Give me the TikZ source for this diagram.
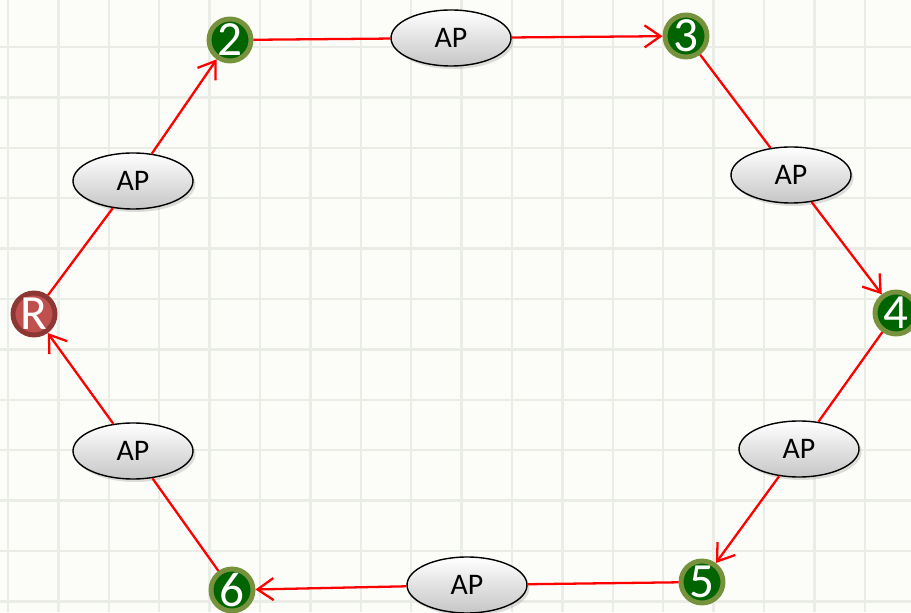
\documentclass[tikz,border=0pt]{standalone}
\usepackage{fontspec}
\setmainfont{Carlito}
\usetikzlibrary{shadows,arrows.meta,shapes.geometric}

\definecolor{fondo}{RGB}{252,253,248}
\definecolor{rejilla}{RGB}{234,236,230}
\definecolor{anillo}{RGB}{118,146,60}
\definecolor{verde}{RGB}{0,100,0}
\definecolor{anillorojo}{RGB}{140,55,52}
\definecolor{rojo}{RGB}{192,80,77}

\begin{document}
\begin{tikzpicture}[
  nodo/.style={circle, draw=anillo, line width=2.8pt, fill=verde, text=white,
    minimum size=8.4mm, inner sep=0pt, font=\fontsize{28pt}{28pt}\selectfont},
  raiz/.style={nodo, draw=anillorojo, fill=rojo},
  ap/.style={ellipse, draw=black, line width=0.8pt, top color=white, bottom color=gray!45,
    minimum width=2.4cm, minimum height=1.12cm, inner sep=0pt,
    drop shadow={opacity=0.25, shadow xshift=0.05cm, shadow yshift=-0.06cm},
    font=\fontsize{17pt}{17pt}\selectfont},
  enlace/.style={red, line width=1.3pt},
  flecha/.style={enlace, -{Straight Barb[length=3.2mm, width=4.4mm]}}
]
  % Fondo y rejilla
  \fill [fondo] (0,0) rectangle (18.22,12.24);
  \useasboundingbox (0,0) rectangle (18.22,12.24);
  \foreach \i in {0,...,18}
    \draw [rejilla, line width=1.4pt] (0.16+1.008*\i,0) -- (0.16+1.008*\i,12.24);
  \foreach \j in {0,...,11}
    \draw [rejilla, line width=1.4pt] (0,11.3-1.008*\j) -- (18.22,11.3-1.008*\j);

  % Nodos
  \node [raiz] (R) at (0.68,5.96) {R};
  \node [nodo] (n2) at (4.6,11.44) {2};
  \node [nodo] (n3) at (13.72,11.52) {3};
  \node [nodo] (n4) at (17.92,5.98) {4};
  \node [nodo] (n5) at (14.04,0.6) {5};
  \node [nodo] (n6) at (4.64,0.44) {6};

  % Puntos de acceso
  \node [ap] (ap1) at (2.66,8.62) {AP};
  \node [ap] (ap2) at (9.02,11.48) {AP};
  \node [ap] (ap3) at (15.82,8.74) {AP};
  \node [ap] (ap4) at (15.98,3.26) {AP};
  \node [ap] (ap5) at (9.34,0.54) {AP};
  \node [ap] (ap6) at (2.66,3.22) {AP};

  % Enlaces
  \draw [enlace] (R) -- (ap1);
  \draw [flecha] (ap1) -- (n2);
  \draw [enlace] (n2) -- (ap2);
  \draw [flecha] (ap2) -- (n3);
  \draw [enlace] (n3) -- (ap3);
  \draw [flecha] (ap3) -- (n4);
  \draw [enlace] (n4) -- (ap4);
  \draw [flecha] (ap4) -- (n5);
  \draw [enlace] (n5) -- (ap5);
  \draw [flecha] (ap5) -- (n6);
  \draw [enlace] (n6) -- (ap6);
  \draw [flecha] (ap6) -- (R);
\end{tikzpicture}
\end{document}
